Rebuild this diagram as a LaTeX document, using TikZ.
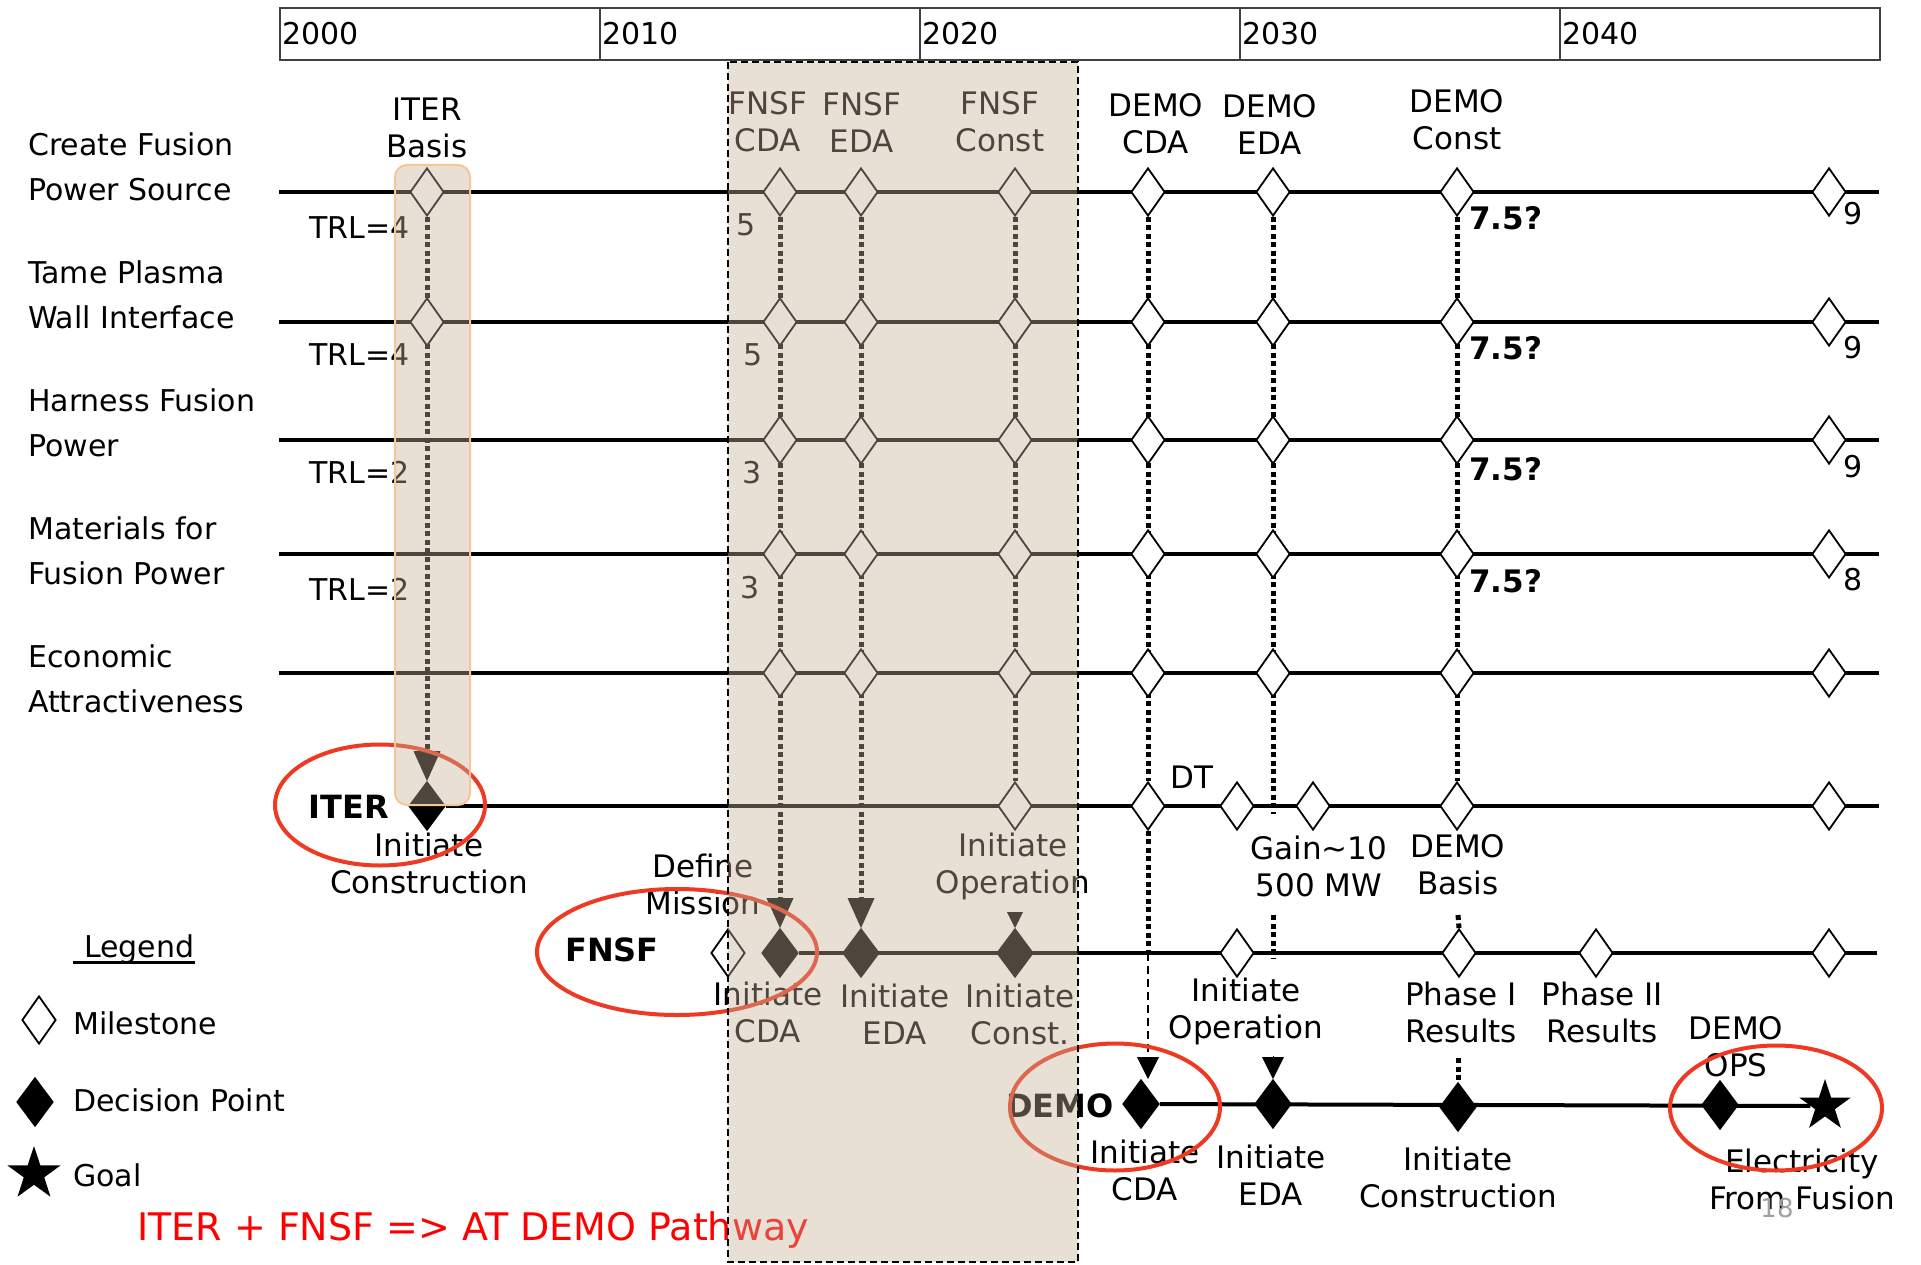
\documentclass[tikz,border=0pt]{standalone}
\usepackage{fontspec}
\setmainfont{DejaVu Sans}
\usetikzlibrary{positioning,arrows.meta,shapes.geometric,backgrounds}
\definecolor{brunVoile}{HTML}{C5AE97}
\definecolor{orangeBord}{HTML}{F8C597}
\definecolor{rougeCercle}{HTML}{EE3A22}
\definecolor{grisCadre}{HTML}{404040}
\definecolor{grisPage}{HTML}{A0A0A0}
\tikzset{
  jalon/.style={diamond, draw=black, line width=1.8pt, fill=white,
    inner sep=0pt, minimum width=34pt, minimum height=48pt},
  decision/.style={jalon, fill=black, minimum width=36pt},
  etoile/.style={star, star points=5, star point ratio=2.6, fill=black,
    inner sep=0pt, minimum size=56pt},
  ligne/.style={line width=4pt},
  pointille/.style={line width=5pt, dash pattern=on 5pt off 3.5pt},
  tiret/.style={line width=2pt, dash pattern=on 8pt off 5pt},
  fleche/.style={-{Triangle[width=27pt,length=30pt,line width=0pt]}},
  flecheDemo/.style={-{Triangle[width=22pt,length=22pt,line width=0pt]}},
  flechePetite/.style={line width=1pt, -{Triangle[width=16pt,length=16pt,line width=0pt]}},
  etiq/.style={font=\fontsize{31}{37}\selectfont, align=center, inner sep=0pt},
  titreLigne/.style={font=\fontsize{30}{45}\selectfont, align=left, anchor=west, inner sep=0pt},
  trl/.style={font=\fontsize{30}{36}\selectfont, inner sep=0pt},
  gras/.style={font=\fontsize{32}{36}\selectfont\bfseries, inner sep=0pt},
  cellule/.style={draw=grisCadre, line width=2pt, minimum height=52pt,
    anchor=north west, inner xsep=2pt, inner ysep=0pt, text width=316pt,
    align=left, font=\fontsize{30}{36}\selectfont},
  ovale/.style={ellipse, draw=rougeCercle, line width=4pt, inner sep=0pt},
  voile/.style={fill=brunVoile, fill opacity=0.4}
}
\begin{document}
\begin{tikzpicture}[x=1pt,y=-1pt]
  \useasboundingbox (0,0) rectangle (1921,1265);

  % --- frise des annees
  \foreach \an [count=\i from 0] in {2000,2010,2020,2030,2040}
    \node[cellule] (an\an) at ({279+320*\i},7) {\an};

  % --- lignes technologiques
  \node[titreLigne] (tCreate) at (28,167) {Create Fusion\\Power Source};
  \node[titreLigne] (tTame) at (28,295) {Tame Plasma\\Wall Interface};
  \node[titreLigne] (tHarness) at (28,423) {Harness Fusion\\Power};
  \node[titreLigne] (tMat) at (28,551) {Materials for\\Fusion Power};
  \node[titreLigne] (tEco) at (28,679) {Economic\\Attractiveness};

  \foreach \r/\y in {1/192,2/322,3/440,4/554,5/673}{
    \coordinate (g\r) at (279,\y);
    \coordinate (d\r) at (1879,\y);
    \foreach \c/\x in {fc/780,fe/861,fk/1015,dc/1148,de/1273,dk/1457,fin/1829}
      \node[jalon] (m\r\c) at (\x,\y) {};
  }
  \node[jalon] (m1it) at (427,192) {};
  \node[jalon] (m2it) at (427,322) {};

  % --- titres des jalons
  \node[etiq] (lIterBase) at (427,128) {ITER\\Basis};
  \node[etiq] (lFc) at (768,122) {FNSF\\CDA};
  \node[etiq] (lFe) at (862,122) {FNSF\\EDA};
  \node[etiq] (lFk) at (1000,122) {FNSF\\Const};
  \node[etiq] (lDc) at (1156,124) {DEMO\\CDA};
  \node[etiq] (lDe) at (1270,124) {DEMO\\EDA};
  \node[etiq] (lDk) at (1457,120) {DEMO\\Const};

  % --- niveaux TRL
  \foreach \y/\n in {228/4,355/4,472/2,589/2}
    \node[trl, anchor=west] (trl\y) at (309,\y) {TRL=\n};
  \foreach \x/\y/\n in {746/225/5,753/355/5,752/473/3,750/588/3}
    \node[trl] (nf\y) at (\x,\y) {\n};
  \foreach \y in {218,348,469,581}
    \node[trl, font=\fontsize{31}{36}\selectfont\bfseries, anchor=west] (nd\y) at (1469,\y) {7.5?};
  \foreach \y/\n in {214/9,348/9,467/9,580/8}
    \node[trl] (nr\y) at (1853,\y) {\n};

  % --- ligne ITER
  \node[decision] (iterDec) at (427,806) {};
  \node[jalon] (iOp) at (1015,806) {};
  \node[jalon] (iDT) at (1148,806) {};
  \node[jalon] (iA) at (1237,806) {};
  \node[jalon] (iB) at (1313,806) {};
  \node[jalon] (iBase) at (1457,806) {};
  \node[jalon] (iFin) at (1829,806) {};
  \coordinate (iterBout) at (1879,806);

  \node[gras] (lIter) at (349,807) {ITER};
  \node[etiq] (lInitC) at (429,863) {Initiate\\Construction};
  \node[etiq] (lInitOp) at (1013,866) {Initiate\\Operation};
  \node[etiq] (lDT) at (1192,777) {DT};
  \node[etiq] (lGain) at (1319,866) {Gain\textasciitilde10\\500 MW};
  \node[etiq] (lDemoBasis) at (1458,865) {DEMO\\Basis};

  % --- ligne FNSF
  \node[jalon] (fDef) at (728,953) {};
  \node[decision] (fCDA) at (780,953) {};
  \node[decision] (fEDA) at (861,953) {};
  \node[decision] (fConst) at (1015,953) {};
  \node[jalon] (fOp) at (1237,953) {};
  \node[jalon] (fP1) at (1459,953) {};
  \node[jalon] (fP2) at (1596,953) {};
  \node[jalon] (fFin) at (1829,953) {};
  \coordinate (fnsfBout) at (1877,953);

  \node[gras] (lFnsf) at (612,950) {FNSF};
  \node[etiq] (lDefine) at (703,884) {Define\\Mission};
  \node[etiq] (lICDA) at (768,1012) {Initiate\\CDA};
  \node[etiq] (lIEDA) at (895,1014) {Initiate\\EDA};
  \node[etiq] (lIConst) at (1020,1014) {Initiate\\Const.};
  \node[etiq] (lIOp) at (1246,1011) {Initiate\\Operation};
  \node[etiq] (lP1) at (1461,1012) {Phase I\\Results};
  \node[etiq] (lP2) at (1602,1012) {Phase II\\Results};
  \node[etiq] (lOps) at (1736,1047) {DEMO\\OPS};

  % --- ligne DEMO
  \node[decision] (dCDA) at (1141,1104) {};
  \node[decision] (dEDA) at (1273,1104) {};
  \node[decision] (dConst) at (1458,1107) {};
  \node[decision] (dOps) at (1720,1105) {};
  \node[etoile, minimum size=54pt] (dGoal) at (1825,1106) {};

  \node[gras] (lDemo) at (1060,1106) {DEMO};
  \node[etiq] (lDICDA) at (1145,1170) {Initiate\\CDA};
  \node[etiq] (lDIEDA) at (1271,1175) {Initiate\\EDA};
  \node[etiq] (lDIConst) at (1458,1177) {Initiate\\Construction};
  \node[etiq] (lElec) at (1802,1179) {Electricity\\From Fusion};
  \node[trl, font=\fontsize{26}{30}\selectfont, text=grisPage] (lPage) at (1777,1208) {18};

  % --- points de passage des liaisons
  \coordinate (kConst) at (1015,912);
  \coordinate (kDc) at (1148,953);
  \coordinate (kDe1) at (1273,814);
  \coordinate (kDe2) at (1273,915);
  \coordinate (kDe3) at (1273,958);
  \coordinate (kDe4) at (1273,1056);
  \coordinate (kDk1) at (1458,915);
  \coordinate (kDk2) at (1458,1058);

  \begin{scope}[on background layer]
    \draw[pointille, fleche] (m1it.south) -- (iterDec.north);
    \draw[pointille, fleche] (m1fc.south) -- (fCDA.north);
    \draw[pointille, fleche] (m1fe.south) -- (fEDA.north);
    \draw[pointille] (m1fk.south) -- (iOp.north);
    \draw[flechePetite] (kConst) -- (fConst.north);
    \draw[pointille] (m1dc.south) -- (iDT.north);
    \draw[pointille] (iDT.south) -- (kDc);
    \draw[tiret, flecheDemo] (kDc) -- (dCDA.north -| kDc);
    \draw[pointille] (m1de.south) -- (kDe1);
    \draw[pointille] (kDe2) -- (kDe3);
    \draw[flecheDemo, line width=1pt] (kDe4) -- (dEDA.north);
    \draw[pointille] (m1dk.south) -- (iBase.north);
    \draw[pointille] (kDk1) -- (fP1.north);
    \draw[pointille] (kDk2) -- (dConst.north);

    \foreach \r in {1,...,5}
      \draw[ligne] (g\r) -- (d\r);
    \draw[ligne] (iterDec) -- (iterBout);
    \draw[ligne] (fCDA) -- (fnsfBout);
    \draw[ligne] (dCDA) -- (dGoal);
  \end{scope}

  % --- legende
  \node[trl, anchor=base west] (lLegende) at (73,957) {\hspace*{11pt}Legend};
  \draw[line width=3pt] ([yshift=-5pt]lLegende.base west) -- ([yshift=-5pt]lLegende.base east);
  \node[jalon] (legJalon) at (39,1020) {};
  \node[decision] (legDec) at (35,1102) {};
  \node[etoile] (legBut) at (34,1174) {};
  \node[trl, anchor=west] (lMile) at (73,1023) {Milestone};
  \node[trl, anchor=west] (lDecis) at (73,1100) {Decision Point};
  \node[trl, anchor=west] (lGoal) at (73,1175) {Goal};
  \node[trl, anchor=west, font=\fontsize{38}{42}\selectfont, text=red] (lTitre) at (137,1230)
    {ITER + FNSF => AT DEMO Pathway};

  % --- cercles rouges
  \node[ovale, minimum width=210pt, minimum height=121pt] (ovIter) at (380,805) {};
  \node[ovale, minimum width=280pt, minimum height=126pt] (ovFnsf) at (677,952) {};
  \node[ovale, minimum width=210pt, minimum height=127pt] (ovDemo) at (1115,1107) {};
  \node[ovale, minimum width=212pt, minimum height=125pt] (ovElec) at (1776,1108) {};

  % --- voiles
  \draw[voile, draw=orangeBord, line width=2pt, rounded corners=12pt] (395,165) rectangle (470,805);
  \draw[voile, draw=black, line width=2pt, dash pattern=on 7pt off 4pt] (728,62) rectangle (1078,1262);

\end{tikzpicture}
\end{document}
